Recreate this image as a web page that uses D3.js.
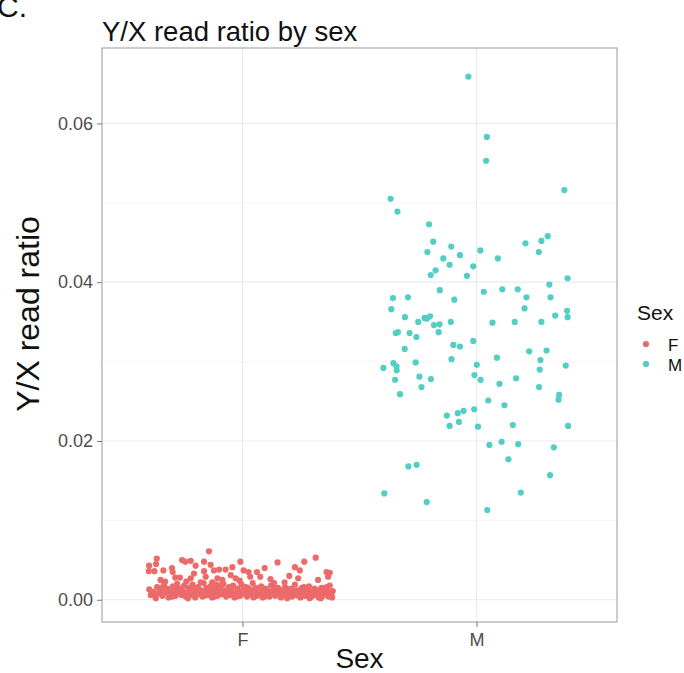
<!DOCTYPE html>
<html>
<head>
<meta charset="utf-8">
<script src="https://cdn.jsdelivr.net/npm/d3@7"></script>
<style>
  body { margin: 0; background: #fff; }
  svg { font-family: "Liberation Sans", Arial, sans-serif; }
</style>
</head>
<body>
<div id="chart"></div>
<script>
// categories and legend
const sexLevels = ["F", "M"];
const sexColors = ["#EC6B6A", "#52CEC5"];
const yTicks = [0, 0.02, 0.04, 0.06];
const yMinor = [0.01, 0.03, 0.05];

// F samples: jitter offset (in category units) and Y/X read ratio
const fJitter = [
  -0.366, -0.369, -0.399, -0.400, -0.376, -0.338, -0.301, -0.298, -0.258, -0.244,
  -0.287, -0.267, -0.143, -0.221, -0.164, -0.136, -0.200, -0.122, -0.100, -0.164,
  -0.207, -0.072, -0.043, -0.157, -0.107, -0.050, -0.221, -0.178, -0.129, -0.086,
  -0.029, 0.150, 0.095, -0.009, 0.005, 0.026, 0.062, 0.033, 0.076, -0.012,
  0.313, 0.264, 0.245, 0.224, 0.359, 0.373, 0.366, 0.323, 0.238, 0.373,
  0.120, 0.180, 0.200, 0.135, -0.330, -0.350, -0.240,
  -0.398, -0.392, -0.381, -0.372, -0.365, -0.358, -0.349, -0.342, -0.335, -0.329,
  -0.321, -0.316, -0.310, -0.303, -0.297, -0.291, -0.285, -0.279, -0.272, -0.266,
  -0.260, -0.254, -0.249, -0.243, -0.238, -0.231, -0.226, -0.219, -0.213, -0.207,
  -0.202, -0.196, -0.190, -0.184, -0.178, -0.171, -0.166, -0.160, -0.154, -0.148,
  -0.141, -0.136, -0.130, -0.124, -0.118, -0.112, -0.106, -0.100, -0.094, -0.088,
  -0.082, -0.076, -0.070, -0.064, -0.058, -0.052, -0.046, -0.040, -0.034, -0.028,
  -0.022, -0.016, -0.010, -0.004, 0.002, 0.008, 0.014, 0.020, 0.026, 0.032,
  0.038, 0.044, 0.050, 0.056, 0.062, 0.068, 0.074, 0.080, 0.086, 0.092,
  0.098, 0.104, 0.110, 0.116, 0.122, 0.128, 0.134, 0.140, 0.146, 0.152,
  0.158, 0.164, 0.170, 0.176, 0.182, 0.188, 0.194, 0.200, 0.206, 0.212,
  0.218, 0.224, 0.230, 0.236, 0.242, 0.248, 0.254, 0.260, 0.266, 0.272,
  0.278, 0.284, 0.290, 0.296, 0.302, 0.308, 0.314, 0.320, 0.326, 0.332,
  0.338, 0.344, 0.350, 0.356, 0.362, 0.368, 0.374, 0.380, 0.386,
  -0.370, -0.345, -0.300, -0.275, -0.233, -0.210, -0.187, -0.163, -0.145, -0.120,
  -0.097, -0.073, -0.049, -0.025, 0.005, 0.023, 0.047, 0.071, 0.095, 0.119,
  0.143, 0.167, 0.191, 0.215, 0.239, 0.263, 0.287, 0.311, 0.335, 0.359, 0.383
];
const fRatio = [
  0.0052, 0.0045, 0.0043, 0.0036, 0.0036, 0.0037, 0.0040, 0.0035, 0.0050, 0.0048,
  0.0028, 0.0028, 0.0061, 0.0049, 0.0048, 0.0044, 0.0043, 0.0037, 0.0038, 0.0036,
  0.0033, 0.0038, 0.0041, 0.0029, 0.0027, 0.0031, 0.0027, 0.0022, 0.0022, 0.0025,
  0.0027, 0.0047, 0.0040, 0.0048, 0.0037, 0.0035, 0.0035, 0.0029, 0.0029, 0.0024,
  0.0053, 0.0048, 0.0037, 0.0041, 0.0035, 0.0034, 0.0029, 0.0025, 0.0027, 0.0018,
  0.0026, 0.0022, 0.0030, 0.0021, 0.0023, 0.0025, 0.0023,
  0.0013, 0.0006, 0.0010, 0.0004, 0.0016, 0.0008, 0.0012, 0.0005, 0.0019, 0.0009,
  0.0014, 0.0003, 0.0011, 0.0007, 0.0017, 0.0012, 0.0005, 0.0020, 0.0009, 0.0014,
  0.0006, 0.0011, 0.0018, 0.0004, 0.0008, 0.0015, 0.0010, 0.0006, 0.0019, 0.0013,
  0.0003, 0.0009, 0.0016, 0.0007, 0.0012, 0.0004, 0.0021, 0.0010, 0.0015, 0.0006,
  0.0011, 0.0017, 0.0003, 0.0008, 0.0013, 0.0019, 0.0005, 0.0010, 0.0015, 0.0007,
  0.0020, 0.0012, 0.0004, 0.0009, 0.0016, 0.0006, 0.0011, 0.0018, 0.0003, 0.0008,
  0.0014, 0.0010, 0.0005, 0.0019, 0.0012, 0.0007, 0.0016, 0.0004, 0.0009, 0.0013,
  0.0006, 0.0021, 0.0010, 0.0015, 0.0005, 0.0008, 0.0012, 0.0017, 0.0003, 0.0009,
  0.0014, 0.0006, 0.0011, 0.0004, 0.0018, 0.0008, 0.0013, 0.0005, 0.0010, 0.0015,
  0.0007, 0.0003, 0.0012, 0.0009, 0.0016, 0.0005, 0.0011, 0.0007, 0.0014, 0.0004,
  0.0009, 0.0019, 0.0006, 0.0012, 0.0008, 0.0003, 0.0015, 0.0010, 0.0005, 0.0013,
  0.0007, 0.0017, 0.0011, 0.0004, 0.0009, 0.0014, 0.0006, 0.0012, 0.0003, 0.0008,
  0.0015, 0.0005, 0.0010, 0.0007, 0.0013, 0.0004, 0.0009, 0.0006, 0.0011,
  0.0002, 0.0015, 0.0004, 0.0013, 0.0002, 0.0009, 0.0013, 0.0005, 0.0014, 0.0004,
  0.0018, 0.0007, 0.0013, 0.0004, 0.0009, 0.0015, 0.0003, 0.0014, 0.0004, 0.0009,
  0.0014, 0.0006, 0.0002, 0.0012, 0.0005, 0.0016, 0.0002, 0.0010, 0.0002, 0.0016, 0.0003
];

// M samples
const mJitter = [
  -0.035, 0.044, 0.041, 0.375, -0.367, -0.338, -0.203,
  -0.185, -0.108, -0.210, -0.071, 0.016, 0.209, 0.277, 0.304, 0.266, -0.142,
  0.091, -0.115, -0.014, -0.175, -0.196, -0.041, 0.389, 0.311, -0.157, 0.031,
  0.110, 0.176, -0.357, -0.293, 0.213, 0.316, -0.095, -0.364, 0.205, 0.387,
  0.389, 0.336, -0.306, -0.222, -0.199, -0.213, -0.249, -0.110, 0.068, 0.163,
  0.277, -0.182, -0.158, -0.336, -0.345, -0.286, -0.162, -0.257, -0.014, -0.099,
  -0.071, -0.307, 0.225, 0.299, 0.087, -0.107, -0.260, 0.273, -0.355, 0.381,
  -0.398, -0.342, -0.341, 0.001, 0.270, -0.244, -0.195, -0.009, 0.017, 0.169,
  -0.348, 0.098, -0.235, 0.267,
  -0.327, 0.353, 0.350, 0.050, 0.119, -0.127, -0.080, -0.055, -0.010, -0.115,
  -0.075, 0.006, 0.155, 0.391, 0.055, 0.107, 0.178, 0.330, 0.136, -0.291,
  -0.256, 0.314, -0.394, 0.189, -0.213, 0.046
];
const mRatio = [
  0.0659, 0.0583, 0.0553, 0.0516, 0.0505, 0.0489, 0.0473,
  0.0451, 0.0445, 0.0438, 0.0434, 0.0440, 0.0449, 0.0452, 0.0458, 0.0438, 0.0430,
  0.0430, 0.0422, 0.0420, 0.0415, 0.0409, 0.0408, 0.0405, 0.0397, 0.0390, 0.0388,
  0.0391, 0.0391, 0.0380, 0.0381, 0.0381, 0.0381, 0.0378, 0.0366, 0.0367, 0.0364,
  0.0356, 0.0358, 0.0356, 0.0355, 0.0357, 0.0354, 0.0350, 0.0350, 0.0349, 0.0350,
  0.0350, 0.0346, 0.0347, 0.0337, 0.0336, 0.0336, 0.0337, 0.0331, 0.0326, 0.0321,
  0.0319, 0.0316, 0.0313, 0.0314, 0.0305, 0.0303, 0.0299, 0.0302, 0.0298, 0.0295,
  0.0292, 0.0294, 0.0289, 0.0296, 0.0290, 0.0281, 0.0278, 0.0283, 0.0277, 0.0279,
  0.0277, 0.0272, 0.0268, 0.0268,
  0.0259, 0.0258, 0.0252, 0.0251, 0.0245, 0.0232, 0.0235, 0.0238, 0.0240, 0.0219,
  0.0224, 0.0218, 0.0220, 0.0219, 0.0195, 0.0199, 0.0196, 0.0192, 0.0177, 0.0168,
  0.0170, 0.0157, 0.0134, 0.0135, 0.0123, 0.0113
];

function init() {
    const W = 684, H = 673;
    const panel = { left: 102, right: 617, top: 48, bottom: 622 };

    const svg = d3.select("#chart")
        .append("svg")
        .attr("width", W)
        .attr("height", H);

    const points = [];
    fJitter.forEach((j, i) => points.push({ sex: 0, pos: 1 + j, ratio: fRatio[i] }));
    mJitter.forEach((j, i) => points.push({ sex: 1, pos: 2 + j, ratio: mRatio[i] }));

    // discrete x: positions 1, 2 with ggplot's 0.6 expansion
    const x = d3.scaleLinear().domain([0.4, 2.6]).range([panel.left, panel.right]);
    const y = d3.scaleLinear().domain([-0.0028, 0.0695]).range([panel.bottom, panel.top]);

    // grid
    svg.append("g").selectAll("line")
        .data(yMinor)
        .join("line")
        .attr("x1", panel.left).attr("x2", panel.right)
        .attr("y1", d => y(d)).attr("y2", d => y(d))
        .attr("stroke", "#f3f3f3").attr("stroke-width", 0.8);

    svg.append("g").selectAll("line")
        .data(yTicks)
        .join("line")
        .attr("x1", panel.left).attr("x2", panel.right)
        .attr("y1", d => y(d)).attr("y2", d => y(d))
        .attr("stroke", "#ebebeb").attr("stroke-width", 1.2);

    svg.append("g").selectAll("line")
        .data([1, 2])
        .join("line")
        .attr("x1", d => x(d)).attr("x2", d => x(d))
        .attr("y1", panel.top).attr("y2", panel.bottom)
        .attr("stroke", "#ebebeb").attr("stroke-width", 1.2);

    // jittered points
    svg.append("g")
        .selectAll("circle")
        .data(points)
        .join("circle")
        .attr("cx", d => x(d.pos))
        .attr("cy", d => y(d.ratio))
        .attr("r", 3.1)
        .attr("fill", d => sexColors[d.sex]);

    // panel border
    svg.append("rect")
        .attr("x", panel.left).attr("y", panel.top)
        .attr("width", panel.right - panel.left)
        .attr("height", panel.bottom - panel.top)
        .attr("fill", "none")
        .attr("stroke", "#999").attr("stroke-width", 1);

    // axes
    const yAxis = svg.append("g")
        .attr("transform", `translate(${panel.left},0)`)
        .call(d3.axisLeft(y).tickValues(yTicks).tickFormat(d3.format(".2f")).tickSize(5).tickPadding(4));
    const xAxis = svg.append("g")
        .attr("transform", `translate(0,${panel.bottom})`)
        .call(d3.axisBottom(x).tickValues([1, 2]).tickFormat(d => sexLevels[d - 1]).tickSize(5).tickPadding(6));

    [yAxis, xAxis].forEach(a => {
        a.select(".domain").remove();
        a.selectAll(".tick line").attr("stroke", "#777");
        a.selectAll(".tick text")
            .attr("fill", "#4d4d4d")
            .style("font-size", "18px")
            .style("font-family", "Liberation Sans, Arial, sans-serif");
    });

    // titles
    svg.append("text")
        .attr("x", -3).attr("y", 17)
        .style("font-size", "30px")
        .attr("fill", "#111")
        .text("C.");

    svg.append("text")
        .attr("x", panel.left).attr("y", 41)
        .style("font-size", "27.5px")
        .attr("fill", "#111")
        .text("Y/X read ratio by sex");

    svg.append("text")
        .attr("text-anchor", "middle")
        .attr("x", (panel.left + panel.right) / 2)
        .attr("y", 668)
        .style("font-size", "28px")
        .attr("fill", "#111")
        .text("Sex");

    svg.append("text")
        .attr("text-anchor", "middle")
        .attr("transform", `translate(39,314) rotate(-90)`)
        .style("font-size", "32px")
        .attr("fill", "#111")
        .text("Y/X read ratio");

    // legend
    const legend = svg.append("g").attr("transform", "translate(637,0)");
    legend.append("text")
        .attr("x", 0).attr("y", 320)
        .style("font-size", "21px")
        .attr("fill", "#111")
        .text("Sex");

    const item = legend.selectAll("g.item")
        .data(sexLevels)
        .join("g")
        .attr("class", "item")
        .attr("transform", (d, i) => `translate(0,${344 + i * 20})`);
    item.append("circle")
        .attr("cx", 9).attr("cy", 0).attr("r", 3.1)
        .attr("fill", (d, i) => sexColors[i]);
    item.append("text")
        .attr("x", 31).attr("y", 6.5)
        .style("font-size", "17px")
        .attr("fill", "#111")
        .text(d => d);
}

window.onload = init;
</script>
</body>
</html>
